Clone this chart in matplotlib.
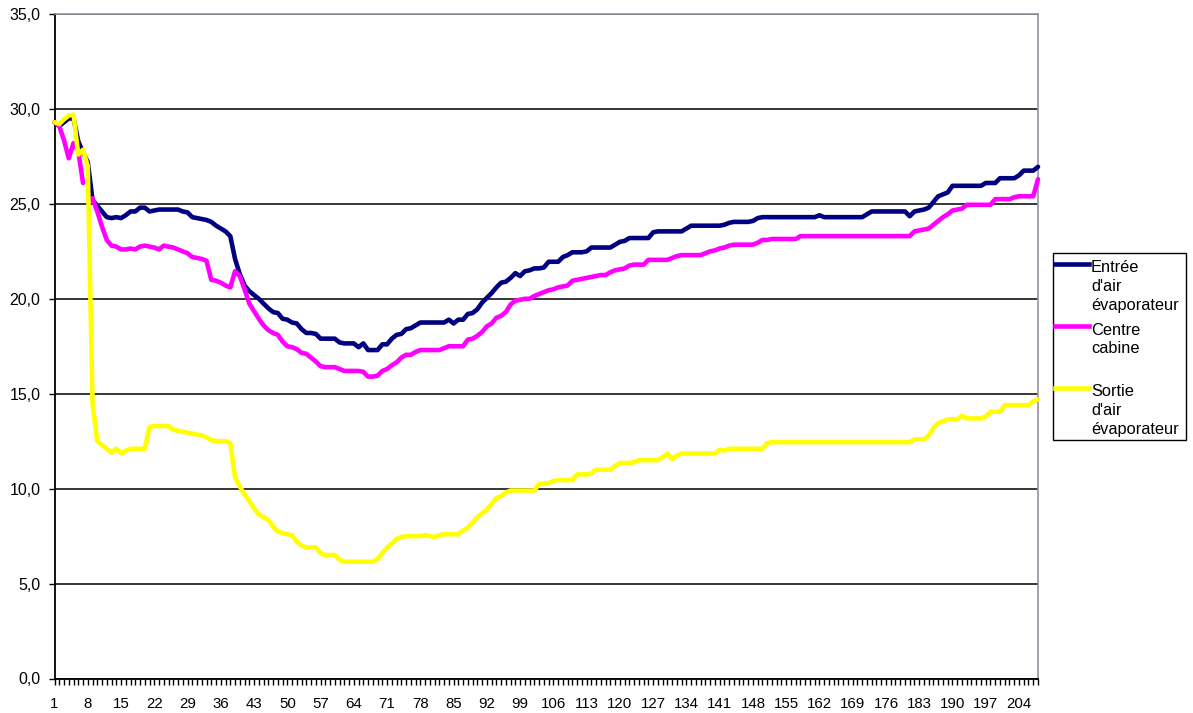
import numpy as np
import matplotlib
matplotlib.use('Agg')
import matplotlib.pyplot as plt
from matplotlib.lines import Line2D
from matplotlib.patches import Rectangle

plt.rcParams['font.family'] = ['Liberation Sans', 'DejaVu Sans']

entree_air = [
    29.3, 29.1, 29.3, 29.5, 29.5, 28.3, 27.7, 27.2, 25.2, 24.9,
    24.6, 24.3, 24.25, 24.3, 24.25, 24.4, 24.6, 24.6, 24.8, 24.8,
    24.6, 24.65, 24.7, 24.7, 24.7, 24.7, 24.7, 24.6, 24.55, 24.3,
    24.25, 24.2, 24.15, 24.05, 23.85, 23.7, 23.55, 23.3, 22.1, 21.3,
    20.7, 20.4, 20.2, 20.0, 19.75, 19.5, 19.3, 19.25, 18.95, 18.9,
    18.75, 18.7, 18.4, 18.2, 18.2, 18.15, 17.9, 17.9, 17.9, 17.9,
    17.7, 17.65, 17.65, 17.65, 17.45, 17.65, 17.3, 17.3, 17.3, 17.6,
    17.6, 17.9, 18.1, 18.15, 18.4, 18.45, 18.6, 18.75, 18.75, 18.75,
    18.75, 18.75, 18.75, 18.9, 18.7, 18.9, 18.9, 19.2, 19.25, 19.45,
    19.8, 20.05, 20.3, 20.6, 20.85, 20.9, 21.1, 21.35, 21.2, 21.45,
    21.5, 21.6, 21.6, 21.65, 21.95, 21.95, 21.95, 22.2, 22.3, 22.45,
    22.45, 22.45, 22.5, 22.7, 22.7, 22.7, 22.7, 22.7, 22.85, 23.0,
    23.05, 23.2, 23.2, 23.2, 23.2, 23.2, 23.5, 23.55, 23.55, 23.55,
    23.55, 23.55, 23.55, 23.7, 23.85, 23.85, 23.85, 23.85, 23.85, 23.85,
    23.85, 23.9, 24.0, 24.05, 24.05, 24.05, 24.05, 24.1, 24.25, 24.3,
    24.3, 24.3, 24.3, 24.3, 24.3, 24.3, 24.3, 24.3, 24.3, 24.3,
    24.3, 24.4, 24.3, 24.3, 24.3, 24.3, 24.3, 24.3, 24.3, 24.3,
    24.3, 24.45, 24.6, 24.6, 24.6, 24.6, 24.6, 24.6, 24.6, 24.6,
    24.35, 24.6, 24.65, 24.7, 24.8, 25.1, 25.4, 25.5, 25.6, 25.95,
    25.95, 25.95, 25.95, 25.95, 25.95, 25.95, 26.1, 26.1, 26.1, 26.35,
    26.35, 26.35, 26.35, 26.5, 26.75, 26.75, 26.75, 26.95,
]

centre_cabine = [
    29.3, 29.1, 28.35, 27.4, 28.2, 27.8, 26.1, np.nan, 25.3, 24.6,
    23.8, 23.1, 22.8, 22.75, 22.6, 22.6, 22.65, 22.6, 22.75, 22.8,
    22.75, 22.7, 22.6, 22.8, 22.75, 22.7, 22.6, 22.5, 22.4, 22.2,
    22.15, 22.1, 22.0, 21.0, 20.95, 20.85, 20.7, 20.6, 21.45, 21.2,
    20.5, 19.75, 19.35, 18.95, 18.6, 18.35, 18.2, 18.1, 17.75, 17.5,
    17.45, 17.35, 17.15, 17.1, 16.9, 16.7, 16.45, 16.4, 16.4, 16.4,
    16.3, 16.2, 16.2, 16.2, 16.2, 16.15, 15.9, 15.9, 15.95, 16.2,
    16.3, 16.5, 16.65, 16.9, 17.05, 17.05, 17.2, 17.3, 17.3, 17.3,
    17.3, 17.3, 17.4, 17.5, 17.5, 17.5, 17.5, 17.85, 17.9, 18.05,
    18.25, 18.55, 18.7, 19.0, 19.1, 19.3, 19.7, 19.9, 19.95, 20.0,
    20.0, 20.15, 20.25, 20.35, 20.45, 20.5, 20.6, 20.65, 20.7, 20.95,
    21.0, 21.05, 21.1, 21.15, 21.2, 21.25, 21.25, 21.4, 21.5, 21.55,
    21.6, 21.75, 21.8, 21.8, 21.8, 22.05, 22.05, 22.05, 22.05, 22.05,
    22.15, 22.25, 22.3, 22.3, 22.3, 22.3, 22.3, 22.4, 22.5, 22.55,
    22.65, 22.7, 22.8, 22.85, 22.85, 22.85, 22.85, 22.85, 22.95, 23.1,
    23.1, 23.15, 23.15, 23.15, 23.15, 23.15, 23.15, 23.3, 23.3, 23.3,
    23.3, 23.3, 23.3, 23.3, 23.3, 23.3, 23.3, 23.3, 23.3, 23.3,
    23.3, 23.3, 23.3, 23.3, 23.3, 23.3, 23.3, 23.3, 23.3, 23.3,
    23.3, 23.55, 23.6, 23.65, 23.7, 23.9, 24.1, 24.3, 24.45, 24.65,
    24.7, 24.75, 24.95, 24.95, 24.95, 24.95, 24.95, 24.95, 25.25, 25.25,
    25.25, 25.25, 25.35, 25.4, 25.4, 25.4, 25.4, 26.3,
]

sortie_air = [
    29.3, 29.2, 29.45, 29.65, 29.7, 27.6, 27.85, 27.0, 14.5, 12.5,
    12.3, 12.1, 11.9, 12.1, 11.85, 12.0, 12.1, 12.1, 12.1, 12.1,
    13.25, 13.3, 13.3, 13.3, 13.3, 13.1, 13.05, 13.0, 12.95, 12.9,
    12.85, 12.8, 12.7, 12.55, 12.5, 12.5, 12.5, 12.4, 10.6, 10.1,
    9.7, 9.35, 8.95, 8.65, 8.5, 8.35, 8.0, 7.75, 7.65, 7.6,
    7.55, 7.2, 7.0, 6.9, 6.9, 6.9, 6.6, 6.5, 6.5, 6.5,
    6.25, 6.15, 6.15, 6.15, 6.15, 6.15, 6.15, 6.15, 6.3, 6.6,
    6.9, 7.1, 7.35, 7.45, 7.5, 7.5, 7.5, 7.5, 7.55, 7.5,
    7.45, 7.55, 7.6, 7.6, 7.6, 7.6, 7.8, 7.95, 8.2, 8.5,
    8.7, 8.9, 9.2, 9.5, 9.6, 9.8, 9.9, 9.9, 9.9, 9.9,
    9.9, 9.9, 10.25, 10.25, 10.3, 10.4, 10.45, 10.45, 10.45, 10.45,
    10.75, 10.75, 10.75, 10.8, 11.0, 11.0, 11.0, 11.0, 11.2, 11.35,
    11.35, 11.35, 11.4, 11.5, 11.5, 11.5, 11.5, 11.5, 11.65, 11.85,
    11.55, 11.75, 11.85, 11.85, 11.85, 11.85, 11.85, 11.85, 11.85, 11.85,
    12.05, 12.0, 12.1, 12.1, 12.1, 12.1, 12.1, 12.1, 12.1, 12.1,
    12.4, 12.45, 12.45, 12.45, 12.45, 12.45, 12.45, 12.45, 12.45, 12.45,
    12.45, 12.45, 12.45, 12.45, 12.45, 12.45, 12.45, 12.45, 12.45, 12.45,
    12.45, 12.45, 12.45, 12.45, 12.45, 12.45, 12.45, 12.45, 12.45, 12.45,
    12.45, 12.6, 12.6, 12.6, 12.8, 13.2, 13.45, 13.55, 13.65, 13.65,
    13.65, 13.85, 13.7, 13.7, 13.7, 13.7, 13.8, 14.05, 14.05, 14.05,
    14.4, 14.4, 14.4, 14.4, 14.4, 14.4, 14.6, 14.7,
]

noms = ["Entrée\nd'air\névaporateur", "Centre\ncabine", "Sortie\nd'air\névaporateur"]
couleurs = ['#000080', '#ff00ff', '#ffff00']
y_ticks = [0, 5, 10, 15, 20, 25, 30, 35]

W, H = 1193, 713
fig = plt.figure(figsize=(W / 100, H / 100), dpi=100)
ax = fig.add_axes([54.5 / W, 1 - 678.5 / H, (1038 - 54.5) / W, (678.5 - 14) / H])

series = [entree_air, centre_cabine, sortie_air]
for s, c in zip(series, couleurs):
    x = np.arange(1, len(s) + 1)
    ax.plot(x, s, color=c, lw=3.3, solid_joinstyle='round', solid_capstyle='round',
            clip_on=False, zorder=3)

n = len(entree_air)
ax.set_xlim(1, n)
ax.set_ylim(0, 35)

ax.set_yticks(y_ticks)
ax.set_yticklabels([f'{v:.1f}'.replace('.', ',') for v in y_ticks])
ax.yaxis.grid(True, color='black', lw=1.1)
ax.set_axisbelow(True)

cats = np.arange(1, n + 1)
ax.set_xticks(cats[::7])
ax.set_xticklabels([str(c) for c in cats[::7]])
ax.set_xticks(cats, minor=True)
ax.tick_params(axis='x', which='both', direction='out', length=4, width=1, color='black')
ax.tick_params(axis='x', which='major', pad=9, labelsize=10.8)
ax.tick_params(axis='y', direction='out', length=4, width=1, pad=6, labelsize=11.5)

for cote in ['left', 'bottom']:
    ax.spines[cote].set_color('black')
    ax.spines[cote].set_linewidth(1.3)
for cote in ['top', 'right']:
    ax.spines[cote].set_color('#9b91a3')
    ax.spines[cote].set_linewidth(1.2)

# légende faite à la main, comme celle d'Excel
fig.patches.append(Rectangle((1052.5 / W, 1 - 439.5 / H), (1186 - 1052.5) / W, (439.5 - 252.5) / H,
                             transform=fig.transFigure, fill=False, edgecolor='black', lw=1))
for k, (nom, c) in enumerate(zip(noms, couleurs)):
    yb = 272.5 + 62 * k
    fig.lines.append(Line2D([1055 / W, 1089 / W], [1 - (yb - 8.5) / H] * 2, color=c, lw=3.3,
                            transform=fig.transFigure))
    for j, ligne in enumerate(nom.split('\n')):
        fig.text(1091 / W, 1 - (yb + 18.7 * j) / H, ligne, fontsize=11.8,
                 ha='left', va='baseline')

fig.savefig('out.png', dpi=100)
